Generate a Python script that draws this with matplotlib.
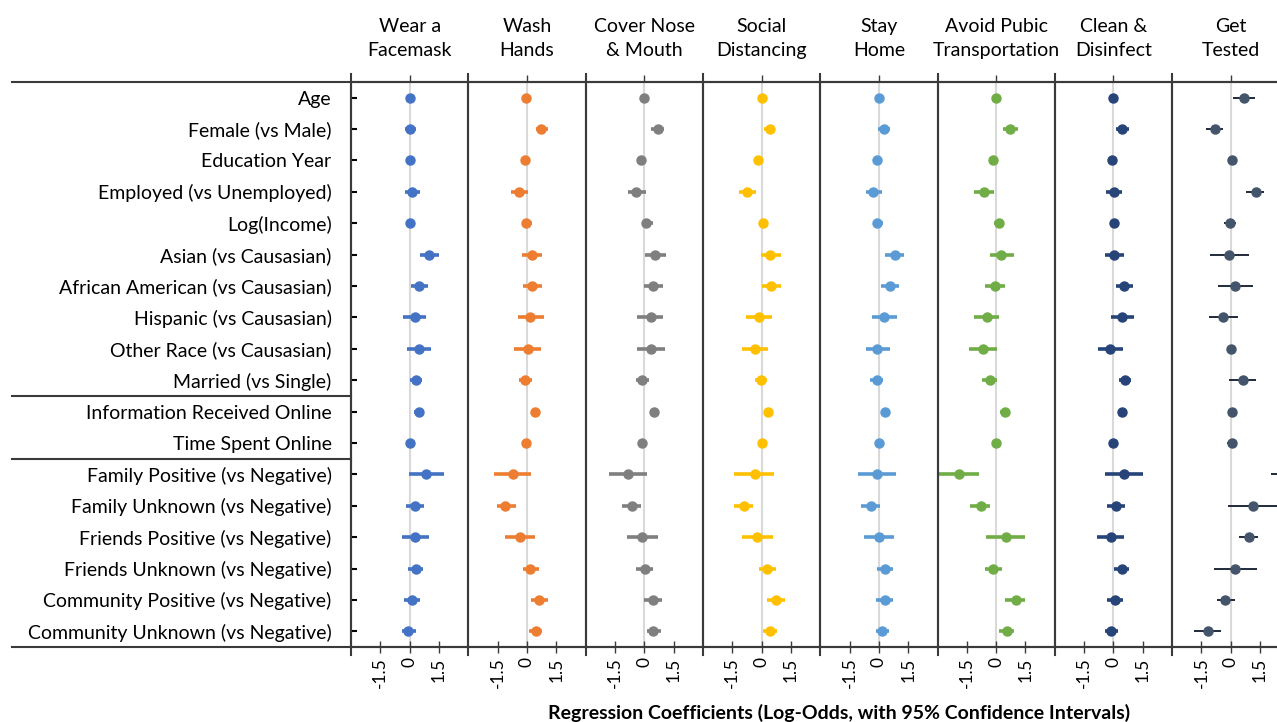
import numpy as np
import matplotlib
matplotlib.use("Agg")
import matplotlib.pyplot as plt
from matplotlib.lines import Line2D

plt.rcParams['font.family'] = ['Lato', 'DejaVu Sans']

rows = ["Age", "Female (vs Male)", "Education Year", "Employed (vs Unemployed)",
        "Log(Income)", "Asian (vs Causasian)", "African American (vs Causasian)",
        "Hispanic (vs Causasian)", "Other Race (vs Causasian)", "Married (vs Single)",
        "Information Received Online", "Time Spent Online",
        "Family Positive (vs Negative)", "Family Unknown (vs Negative)",
        "Friends Positive (vs Negative)", "Friends Unknown (vs Negative)",
        "Community Positive (vs Negative)", "Community Unknown (vs Negative)"]

outcomes = ["Wear a\nFacemask", "Wash\nHands", "Cover Nose\n& Mouth", "Social\nDistancing",
            "Stay\nHome", "Avoid Pubic\nTransportation", "Clean &\nDisinfect", "Get\nTested"]

colors = ["#4472C4", "#ED7D31", "#7F7F7F", "#FFC000", "#5B9BD5", "#70AD47", "#264478", "#44546A"]

# point estimates, one list per outcome (rows in order above)
coef = [
    [0, 0.0, 0, 0.14, 0, 0.99, 0.46, 0.26, 0.46, 0.31, 0.46, 0, 0.82, 0.26, 0.26, 0.31, 0.12, -0.07],
    [-0.05, 0.72, -0.1, -0.43, -0.05, 0.27, 0.26, 0.15, 0.03, -0.09, 0.43, -0.03, -0.73, -1.11, -0.36, 0.17, 0.6, 0.45],
    [0, 0.7, -0.15, -0.43, 0.1, 0.55, 0.43, 0.32, 0.32, -0.12, 0.51, -0.1, -0.85, -0.63, -0.12, 0.02, 0.44, 0.44],
    [0, 0.41, -0.17, -0.73, 0.09, 0.43, 0.46, -0.15, -0.32, -0.03, 0.34, 0, -0.32, -0.89, -0.22, 0.27, 0.72, 0.43],
    [0, 0.24, -0.07, -0.29, -0.07, 0.82, 0.58, 0.26, -0.07, -0.1, 0.31, 0, -0.09, -0.41, 0, 0.29, 0.29, 0.17],
    [0, 0.73, -0.15, -0.63, 0.15, 0.27, -0.07, -0.46, -0.68, -0.34, 0.44, 0, -1.9, -0.8, 0.51, -0.14, 0.99, 0.55],
    [0, 0.43, -0.07, 0.05, 0.05, 0.05, 0.55, 0.44, -0.17, 0.58, 0.44, 0, 0.55, 0.12, -0.14, 0.44, 0.07, -0.14],
    [0.68, -0.82, 0.07, 1.28, -0.05, -0.07, 0.22, -0.39, 0.03, 0.63, 0.05, 0.05, 3.4, 1.14, 0.95, 0.22, -0.27, -1.16],
]
ci_low = [
    [-0.05, -0.25, -0.05, -0.26, -0.07, 0.55, 0.05, -0.34, -0.15, 0.03, 0.24, -0.04, -0.05, -0.2, -0.41, -0.09, -0.31, -0.41],
    [-0.1, 0.44, -0.15, -0.82, -0.26, -0.26, -0.19, -0.44, -0.67, -0.43, 0.22, -0.07, -1.69, -1.54, -1.11, -0.22, 0.19, 0.1],
    [-0.05, 0.36, -0.2, -0.82, -0.12, 0.02, -0.02, -0.39, -0.39, -0.44, 0.34, -0.14, -1.82, -1.14, -0.89, -0.41, 0.0, 0.14],
    [-0.05, 0.14, -0.22, -1.14, -0.12, -0.03, 0.0, -0.77, -0.99, -0.34, 0.14, -0.04, -1.4, -1.4, -0.99, -0.14, 0.29, 0.09],
    [-0.05, -0.05, -0.12, -0.68, -0.31, 0.32, 0.12, -0.36, -0.68, -0.43, 0.1, -0.04, -1.06, -0.9, -0.75, -0.07, -0.17, -0.17],
    [-0.05, 0.37, -0.2, -1.13, -0.1, -0.29, -0.55, -1.13, -1.38, -0.73, 0.2, -0.04, -2.97, -1.35, -0.53, -0.58, 0.46, 0.15],
    [-0.05, 0.15, -0.12, -0.37, -0.17, -0.43, 0.12, -0.15, -0.8, 0.26, 0.35, -0.04, -0.43, -0.32, -0.84, 0.03, -0.32, -0.41],
    [0.12, -1.26, 0.0, 0.8, -0.36, -1.06, -0.63, -1.11, -0.02, -0.07, -0.02, -0.2, 2.05, -0.12, 0.44, -0.85, -0.7, -1.86],
]
ci_high = [
    [0.05, 0.33, 0.05, 0.51, 0.07, 1.5, 0.92, 0.82, 1.09, 0.65, 0.63, 0.04, 1.76, 0.72, 0.97, 0.66, 0.51, 0.31],
    [0.0, 1.09, -0.05, 0.05, 0.26, 0.78, 0.78, 0.85, 0.73, 0.27, 0.68, 0.01, 0.22, -0.58, 0.43, 0.63, 1.06, 0.78],
    [0.05, 1.0, -0.1, 0.1, 0.43, 1.11, 0.95, 0.95, 1.06, 0.24, 0.75, -0.06, 0.14, -0.17, 0.72, 0.46, 0.92, 0.87],
    [0.05, 0.7, -0.12, -0.29, 0.32, 0.97, 0.97, 0.51, 0.34, 0.27, 0.56, 0.04, 0.66, -0.44, 0.6, 0.72, 1.19, 0.77],
    [0.05, 0.56, -0.02, 0.14, 0.19, 1.3, 1.04, 0.92, 0.56, 0.22, 0.55, 0.04, 0.87, 0.07, 0.75, 0.7, 0.7, 0.53],
    [0.05, 1.1, -0.1, -0.12, 0.41, 0.89, 0.43, 0.17, 0.05, 0.02, 0.68, 0.04, -0.87, -0.34, 1.5, 0.29, 1.5, 0.9],
    [0.05, 0.77, -0.02, 0.43, 0.29, 0.55, 1.02, 1.07, 0.5, 0.9, 0.53, 0.04, 1.53, 0.58, 0.55, 0.82, 0.5, 0.24],
    [1.26, -0.41, 0.14, 1.7, 0.27, 0.95, 1.13, 0.36, 0.08, 1.3, 0.12, 0.27, 4.8, 2.9, 1.4, 1.36, 0.2, -0.48],
]

xticks = [-1.5, 0, 1.5]
xticklabels = ["-1.5", "0", "1.5"]

W, H = 1277, 722
fig = plt.figure(figsize=(W / 100, H / 100), dpi=100)

left_px, top_px, bot_px, pw = 351, 82, 647, 117.3
y = np.arange(len(rows))
line_col = "#3a3a3a"

for i, name in enumerate(outcomes):
    ax = fig.add_axes([(left_px + i * pw) / W, 1 - bot_px / H, pw / W, (bot_px - top_px) / H])
    ax.set_xlim(-3, 3)
    ax.set_ylim(len(rows) - 0.5, -0.5)
    ax.axvline(0, color="#d9d9d9", lw=1.5, zorder=1)

    est = np.array(coef[i])
    lo = np.array(ci_low[i])
    hi = np.array(ci_high[i])
    bar_col = "#1f2a3a" if i == 7 else colors[i]
    lw = 1.4 if i == 7 else 2.6
    ax.hlines(y, lo, hi, color=bar_col, lw=lw, zorder=2)
    ax.plot(est, y, "o", color=colors[i], ms=6.5, mec=colors[i], zorder=3)

    for s in ["top", "bottom", "left"]:
        ax.spines[s].set_color(line_col)
        ax.spines[s].set_linewidth(1.5)
    ax.spines["right"].set_visible(False)
    # panel boundary lines stick out a little above and below
    ax.plot([0, 0], [-0.014, 1.014], transform=ax.transAxes, color=line_col,
            lw=1.5, clip_on=False, zorder=5)

    ax.set_xticks(xticks)
    ax.set_xticklabels(xticklabels, rotation=90, fontsize=12.5)
    ax.tick_params(axis="x", direction="inout", length=9, width=1, color=line_col, pad=3)
    sec = ax.secondary_xaxis("top")
    sec.set_xticks([0])
    sec.set_xticklabels([])
    sec.tick_params(direction="out", length=5, width=1, color=line_col)
    sec.spines["top"].set_visible(False)

    if i == 0:
        ax.set_yticks(y)
        ax.set_yticklabels(rows, fontsize=14)
        ax.tick_params(axis="y", direction="in", length=4, width=1.5, color="black", pad=14)
    else:
        ax.set_yticks([])

    fig.text((left_px + (i + 0.5) * pw) / W, 1 - 38.5 / H, name, ha="center", va="center",
             fontsize=14, linespacing=1.5)

# horizontal rules across the label column
def hrule(ypx, x0=12, x1=W):
    fig.add_artist(Line2D([x0 / W, x1 / W], [1 - ypx / H, 1 - ypx / H], color=line_col, lw=1.5))

hrule(top_px)
hrule(bot_px)
row_h = (bot_px - top_px) / len(rows)
hrule(top_px + 10 * row_h, x1=left_px)
hrule(top_px + 12 * row_h, x1=left_px)

fig.text(839 / W, 1 - 713 / H, "Regression Coefficients (Log-Odds, with 95% Confidence Intervals)",
         ha="center", va="center", fontsize=14, fontweight="bold")

fig.savefig("out.png", dpi=100)
